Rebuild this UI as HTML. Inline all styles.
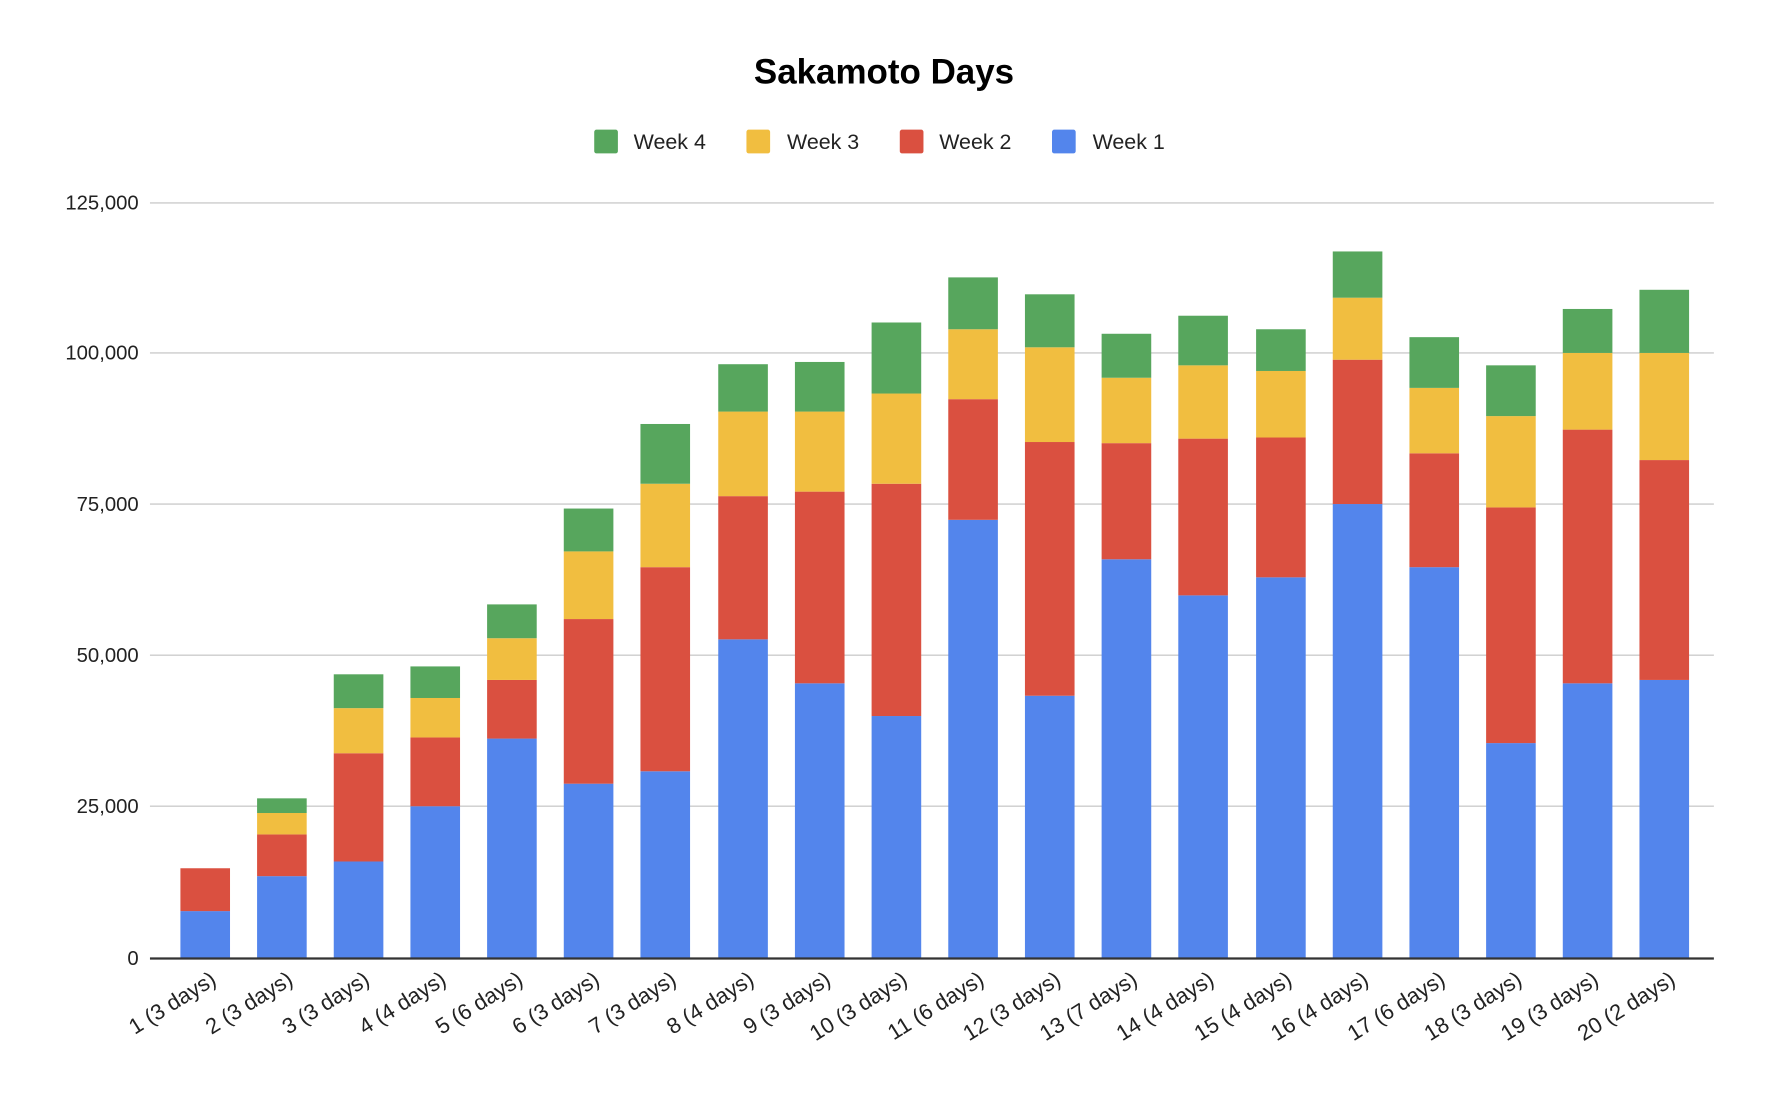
<!DOCTYPE html>
<html><head><meta charset="utf-8"><style>
html,body{margin:0;padding:0;background:#fff}
svg{display:block}
text{font-family:"Liberation Sans",Arial,sans-serif}
</style></head><body>
<svg width="1768" height="1094" viewBox="0 0 1568 970.2" preserveAspectRatio="none" xmlns="http://www.w3.org/2000/svg">
<rect width="1568" height="971" fill="#fff"/>
<text x="784" y="74" text-anchor="middle" font-size="31" font-weight="bold" fill="#000">Sakamoto Days</text>
<rect x="527" y="115" width="21" height="21" rx="2" fill="#57a65d"/><text x="562" y="132" font-size="19" fill="#222">Week 4</text>
<rect x="662" y="115" width="21" height="21" rx="2" fill="#f1be40"/><text x="698" y="132" font-size="19" fill="#222">Week 3</text>
<rect x="798" y="115" width="21" height="21" rx="2" fill="#da5040"/><text x="833" y="132" font-size="19" fill="#222">Week 2</text>
<rect x="933" y="115" width="21" height="21" rx="2" fill="#5385ec"/><text x="969" y="132" font-size="19" fill="#222">Week 1</text>
<g stroke="#cccccc" stroke-width="1.2">
<line x1="133" x2="1520" y1="180" y2="180"/><line x1="133" x2="1520" y1="313" y2="313"/><line x1="133" x2="1520" y1="447" y2="447"/><line x1="133" x2="1520" y1="581" y2="581"/><line x1="133" x2="1520" y1="715" y2="715"/>
</g>
<g font-size="18" fill="#222" text-anchor="end">
<text x="123" y="186">125,000</text><text x="123" y="319">100,000</text><text x="123" y="453">75,000</text><text x="123" y="587">50,000</text><text x="123" y="721">25,000</text><text x="123" y="856">0</text>
</g>
<g>
<rect x="160" y="808" width="44" height="42" fill="#5385ec"/><rect x="160" y="770" width="44" height="38" fill="#da5040"/>
<rect x="228" y="777" width="44" height="73" fill="#5385ec"/><rect x="228" y="740" width="44" height="37" fill="#da5040"/><rect x="228" y="721" width="44" height="19" fill="#f1be40"/><rect x="228" y="708" width="44" height="13" fill="#57a65d"/>
<rect x="296" y="764" width="44" height="86" fill="#5385ec"/><rect x="296" y="668" width="44" height="96" fill="#da5040"/><rect x="296" y="628" width="44" height="40" fill="#f1be40"/><rect x="296" y="598" width="44" height="30" fill="#57a65d"/>
<rect x="364" y="715" width="44" height="135" fill="#5385ec"/><rect x="364" y="654" width="44" height="61" fill="#da5040"/><rect x="364" y="619" width="44" height="35" fill="#f1be40"/><rect x="364" y="591" width="44" height="28" fill="#57a65d"/>
<rect x="432" y="655" width="44" height="195" fill="#5385ec"/><rect x="432" y="603" width="44" height="52" fill="#da5040"/><rect x="432" y="566" width="44" height="37" fill="#f1be40"/><rect x="432" y="536" width="44" height="30" fill="#57a65d"/>
<rect x="500" y="695" width="44" height="155" fill="#5385ec"/><rect x="500" y="549" width="44" height="146" fill="#da5040"/><rect x="500" y="489" width="44" height="60" fill="#f1be40"/><rect x="500" y="451" width="44" height="38" fill="#57a65d"/>
<rect x="568" y="684" width="44" height="166" fill="#5385ec"/><rect x="568" y="503" width="44" height="181" fill="#da5040"/><rect x="568" y="429" width="44" height="74" fill="#f1be40"/><rect x="568" y="376" width="44" height="53" fill="#57a65d"/>
<rect x="637" y="567" width="44" height="283" fill="#5385ec"/><rect x="637" y="440" width="44" height="127" fill="#da5040"/><rect x="637" y="365" width="44" height="75" fill="#f1be40"/><rect x="637" y="323" width="44" height="42" fill="#57a65d"/>
<rect x="705" y="606" width="44" height="244" fill="#5385ec"/><rect x="705" y="436" width="44" height="170" fill="#da5040"/><rect x="705" y="365" width="44" height="71" fill="#f1be40"/><rect x="705" y="321" width="44" height="44" fill="#57a65d"/>
<rect x="773" y="635" width="44" height="215" fill="#5385ec"/><rect x="773" y="429" width="44" height="206" fill="#da5040"/><rect x="773" y="349" width="44" height="80" fill="#f1be40"/><rect x="773" y="286" width="44" height="63" fill="#57a65d"/>
<rect x="841" y="461" width="44" height="389" fill="#5385ec"/><rect x="841" y="354" width="44" height="107" fill="#da5040"/><rect x="841" y="292" width="44" height="62" fill="#f1be40"/><rect x="841" y="246" width="44" height="46" fill="#57a65d"/>
<rect x="909" y="617" width="44" height="233" fill="#5385ec"/><rect x="909" y="392" width="44" height="225" fill="#da5040"/><rect x="909" y="308" width="44" height="84" fill="#f1be40"/><rect x="909" y="261" width="44" height="47" fill="#57a65d"/>
<rect x="977" y="496" width="44" height="354" fill="#5385ec"/><rect x="977" y="393" width="44" height="103" fill="#da5040"/><rect x="977" y="335" width="44" height="58" fill="#f1be40"/><rect x="977" y="296" width="44" height="39" fill="#57a65d"/>
<rect x="1045" y="528" width="44" height="322" fill="#5385ec"/><rect x="1045" y="389" width="44" height="139" fill="#da5040"/><rect x="1045" y="324" width="44" height="65" fill="#f1be40"/><rect x="1045" y="280" width="44" height="44" fill="#57a65d"/>
<rect x="1114" y="512" width="44" height="338" fill="#5385ec"/><rect x="1114" y="388" width="44" height="124" fill="#da5040"/><rect x="1114" y="329" width="44" height="59" fill="#f1be40"/><rect x="1114" y="292" width="44" height="37" fill="#57a65d"/>
<rect x="1182" y="447" width="44" height="403" fill="#5385ec"/><rect x="1182" y="319" width="44" height="128" fill="#da5040"/><rect x="1182" y="264" width="44" height="55" fill="#f1be40"/><rect x="1182" y="223" width="44" height="41" fill="#57a65d"/>
<rect x="1250" y="503" width="44" height="347" fill="#5385ec"/><rect x="1250" y="402" width="44" height="101" fill="#da5040"/><rect x="1250" y="344" width="44" height="58" fill="#f1be40"/><rect x="1250" y="299" width="44" height="45" fill="#57a65d"/>
<rect x="1318" y="659" width="44" height="191" fill="#5385ec"/><rect x="1318" y="450" width="44" height="209" fill="#da5040"/><rect x="1318" y="369" width="44" height="81" fill="#f1be40"/><rect x="1318" y="324" width="44" height="45" fill="#57a65d"/>
<rect x="1386" y="606" width="44" height="244" fill="#5385ec"/><rect x="1386" y="381" width="44" height="225" fill="#da5040"/><rect x="1386" y="313" width="44" height="68" fill="#f1be40"/><rect x="1386" y="274" width="44" height="39" fill="#57a65d"/>
<rect x="1454" y="603" width="44" height="247" fill="#5385ec"/><rect x="1454" y="408" width="44" height="195" fill="#da5040"/><rect x="1454" y="313" width="44" height="95" fill="#f1be40"/><rect x="1454" y="257" width="44" height="56" fill="#57a65d"/>
</g>
<line x1="133" x2="1520" y1="850" y2="850" stroke="#333" stroke-width="2"/>
<g font-size="19.5" fill="#222" text-anchor="end">
<text transform="translate(193,872) rotate(-32)">1 (3 days)</text>
<text transform="translate(261,872) rotate(-32)">2 (3 days)</text>
<text transform="translate(329,872) rotate(-32)">3 (3 days)</text>
<text transform="translate(397,872) rotate(-32)">4 (4 days)</text>
<text transform="translate(465,872) rotate(-32)">5 (6 days)</text>
<text transform="translate(533,872) rotate(-32)">6 (3 days)</text>
<text transform="translate(601,872) rotate(-32)">7 (3 days)</text>
<text transform="translate(670,872) rotate(-32)">8 (4 days)</text>
<text transform="translate(738,872) rotate(-32)">9 (3 days)</text>
<text transform="translate(806,872) rotate(-32)">10 (3 days)</text>
<text transform="translate(874,872) rotate(-32)">11 (6 days)</text>
<text transform="translate(942,872) rotate(-32)">12 (3 days)</text>
<text transform="translate(1010,872) rotate(-32)">13 (7 days)</text>
<text transform="translate(1078,872) rotate(-32)">14 (4 days)</text>
<text transform="translate(1147,872) rotate(-32)">15 (4 days)</text>
<text transform="translate(1215,872) rotate(-32)">16 (4 days)</text>
<text transform="translate(1283,872) rotate(-32)">17 (6 days)</text>
<text transform="translate(1351,872) rotate(-32)">18 (3 days)</text>
<text transform="translate(1419,872) rotate(-32)">19 (3 days)</text>
<text transform="translate(1487,872) rotate(-32)">20 (2 days)</text>
</g>
</svg>
</body></html>
